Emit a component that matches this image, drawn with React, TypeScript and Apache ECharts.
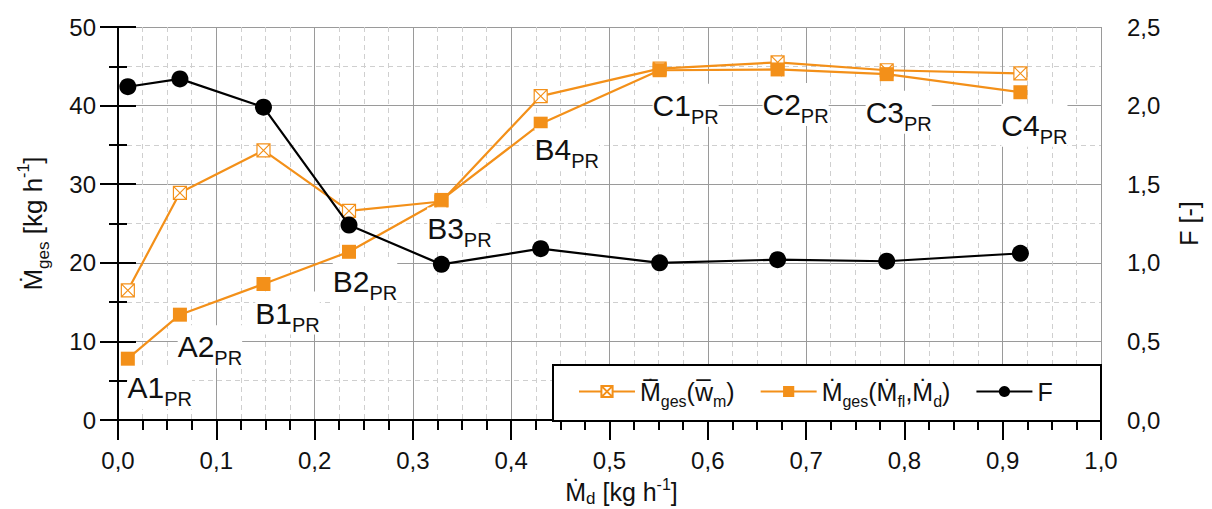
import React, { useEffect, useRef } from "react";
import * as echarts from "echarts";

const xValues = [0.010, 0.063, 0.148, 0.235, 0.329, 0.430, 0.551, 0.671, 0.782, 0.918];
const mMean = [16.5, 28.9, 34.3, 26.6, 27.8, 41.2, 44.7, 45.5, 44.5, 44.1];
const mFlD = [7.8, 13.4, 17.3, 21.4, 28.0, 37.7, 44.5, 44.6, 44.0, 41.7];
const fValues = [2.12, 2.17, 1.99, 1.24, 0.99, 1.09, 1.0, 1.02, 1.01, 1.06];
const pointLabels = ["A1", "A2", "B1", "B2", "B3", "B4", "C1", "C2", "C3", "C4"];
const labelOffsets = [
  [32, 29], [30, 32], [24, 29], [16, 30], [18, 29],
  [26, 26], [26, 35], [18, 35], [12, 38], [14, 33],
];

const ORANGE = "#F39019";
const FONT = "Liberation Sans, Arial, DejaVu Sans, sans-serif";
const INK = "#111";

const openSquare = "path://M0,0 L10,0 L10,10 L0,10 Z M0,0 L10,10 M10,0 L0,10";

const rich = (size: number, sub: number, subPad: number, supPad: number) => ({
  m: { fontSize: size, fontFamily: FONT, color: INK },
  s: { fontSize: sub, fontFamily: FONT, color: INK, padding: [subPad, 0, 0, 0] },
  u: { fontSize: sub - 1, fontFamily: FONT, color: INK, padding: [0, 0, supPad, 0] },
});

export default function App() {
  const ref = useRef<HTMLDivElement>(null);
  useEffect(() => {
    if (!ref.current) return;
    const chart = echarts.init(ref.current, undefined, { renderer: "svg" });
    const fmt = (v: number) => v.toFixed(1).replace(".", ",");
    const axisLine = { show: true, lineStyle: { color: "#000", width: 2 } };
    const tick = (len: number, inside = false) => ({
      show: true,
      inside,
      length: len,
      lineStyle: { width: 2, color: "#000" },
    });
    const labelStyle = { fontSize: 24, fontFamily: FONT, color: INK };
    const option: any = {
      animation: false,
      backgroundColor: "#fff",
      grid: { left: 110, right: 103, top: 19, bottom: 89, outerBoundsMode: "none", containLabel: false },
      xAxis: [
        {
          type: "value",
          min: 0,
          max: 1,
          interval: 0.1,
          position: "bottom",
          name: "{m|Ṁ}{s|d}{m| [kg h}{u|-1}{m|]}",
          nameLocation: "middle",
          nameGap: 36,
          nameTextStyle: { padding: [0, 0, 0, 24], rich: rich(25, 17, 13, 15) },
          axisLine,
          axisTick: tick(20),
          minorTick: { ...tick(10), splitNumber: 4 },
          axisLabel: { ...labelStyle, formatter: fmt, margin: 28 },
          splitLine: { show: true, lineStyle: { color: "#9a9a9a", width: 1 } },
          minorSplitLine: { show: true, lineStyle: { color: "#cfcfcf", width: 1, type: [5, 4] } },
        },
        {
          type: "value",
          min: 0,
          max: 1,
          interval: 0.1,
          position: "top",
          axisLine,
          axisTick: tick(12, true),
          minorTick: { ...tick(7, true), splitNumber: 4 },
          axisLabel: { show: false },
          splitLine: { show: false },
        },
      ],
      yAxis: [
        {
          type: "value",
          min: 0,
          max: 50,
          interval: 10,
          position: "left",
          name: "{m|Ṁ}{s|ges}{m| [kg h}{u|-1}{m|]}",
          nameLocation: "middle",
          nameGap: 66,
          nameTextStyle: { rich: rich(26, 17, 22, 19) },
          axisLine,
          axisTick: tick(18),
          minorTick: { ...tick(9), splitNumber: 2 },
          axisLabel: { ...labelStyle, margin: 22 },
          splitLine: { show: true, lineStyle: { color: "#9a9a9a", width: 1 } },
          minorSplitLine: { show: true, lineStyle: { color: "#cfcfcf", width: 1, type: [5, 4] } },
        },
        {
          type: "value",
          min: 0,
          max: 2.5,
          interval: 0.5,
          position: "right",
          name: "F [-]",
          nameLocation: "middle",
          nameGap: 75,
          nameRotate: 90,
          nameTextStyle: { fontSize: 25, fontFamily: FONT, color: INK },
          axisLine,
          axisTick: tick(18),
          minorTick: { ...tick(9), splitNumber: 2 },
          axisLabel: { ...labelStyle, formatter: fmt, margin: 26 },
          splitLine: { show: false },
        },
      ],
      legend: {
        left: 565,
        top: 366,
        z: 100,
        itemGap: 25,
        itemWidth: 56,
        itemHeight: 14,
        data: ["mean", "flow", "F"],
        formatter: (name: string) => {
          if (name === "mean") return "{m|Ṁ̅}{s|ges}{m|(w̅}{s|m}{m|)}";
          if (name === "flow") return "{m|Ṁ}{s|ges}{m|(Ṁ}{s|fl}{m|,Ṁ}{s|d}{m|)}";
          return "{m|F}";
        },
        textStyle: { rich: rich(25, 16, 20, 18) },
      },
      graphic: [
        {
          type: "rect",
          z: 50,
          shape: { x: 545, y: 357, width: 548, height: 56 },
          style: { fill: "#fff", stroke: "#000", lineWidth: 2 },
        },
      ],
      series: [
        {
          name: "mean",
          type: "line",
          xAxisIndex: 0,
          yAxisIndex: 0,
          data: xValues.map((x, i) => [x, mMean[i]]),
          symbol: openSquare,
          symbolSize: 13,
          lineStyle: { color: ORANGE, width: 2.2 },
          itemStyle: { color: "#fff", borderColor: ORANGE, borderWidth: 1.2 },
          z: 3,
        },
        {
          name: "flow",
          type: "line",
          xAxisIndex: 0,
          yAxisIndex: 0,
          data: xValues.map((x, i) => ({
            value: [x, mFlD[i]],
            label: {
              show: true,
              position: "inside",
              offset: labelOffsets[i],
              formatter: `{m|${pointLabels[i]}}{s|PR}`,
              backgroundColor: "#fff",
              rich: rich(30, 20, 23, 0),
            },
          })),
          symbol: "rect",
          symbolSize: 14,
          lineStyle: { color: ORANGE, width: 2.2 },
          itemStyle: { color: ORANGE },
          z: 4,
        },
        {
          name: "F",
          type: "line",
          xAxisIndex: 0,
          yAxisIndex: 1,
          data: xValues.map((x, i) => [x, fValues[i]]),
          symbol: "circle",
          symbolSize: 17,
          lineStyle: { color: "#000", width: 2.2 },
          itemStyle: { color: "#000" },
          z: 5,
        },
      ],
    };
    chart.setOption(option);
    return () => chart.dispose();
  }, []);
  return <div ref={ref} style={{ width: 1196, height: 501 }} />;
}
